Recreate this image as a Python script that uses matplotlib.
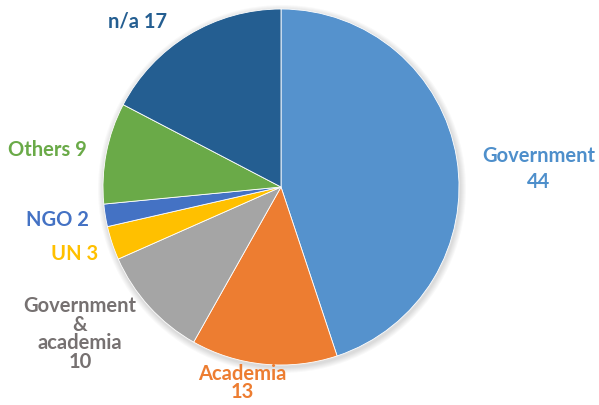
import matplotlib.pyplot as plt
from matplotlib.patches import Circle

labels = ["Government\n44", "Academia\n13", "Government\n&\nacademia\n10", "UN 3", "NGO 2", "Others 9", "n/a 17"]
values = [44, 13, 10, 3, 2, 9, 17]
colors = ["#5592CD", "#ED7D31", "#A5A5A5", "#FFC000", "#4472C4", "#6AAA48", "#245E91"]
text_colors = ["#4E8FCB", "#ED7D31", "#767171", "#FFC000", "#4472C4", "#6AAA48", "#245E91"]
label_pos = [(539, 169), (242, 383), (80, 334), (75, 254), (57, 220), (47, 150), (137, 22)]
spacing = [1.35, 0.92, 0.92, 1, 1, 1, 1]

W, H = 599, 406
fig = plt.figure(figsize=(W / 100, H / 100), dpi=100)
ax = fig.add_axes([0, 0, 1, 1])

cx, cy, r = 281, H - 188, 178

# soft shadow
for i in range(6):
    ax.add_patch(Circle((cx + 1, cy - 2), r + 1 + i, color="black", alpha=0.025, lw=0, zorder=0))

ax.pie(values, colors=colors, startangle=90, counterclock=False,
       center=(cx, cy), radius=r, frame=True,
       wedgeprops=dict(edgecolor="white", linewidth=0.6))
ax.set_xlim(0, W)
ax.set_ylim(0, H)
ax.set_aspect("equal")
ax.axis("off")

for lab, (x, y), c, ls in zip(labels, label_pos, text_colors, spacing):
    ax.text(x, H - y, lab, color=c, ha="center", va="center", fontsize=14.5,
            fontweight="bold", family="Lato", linespacing=ls)

fig.savefig("out.png", dpi=100)
